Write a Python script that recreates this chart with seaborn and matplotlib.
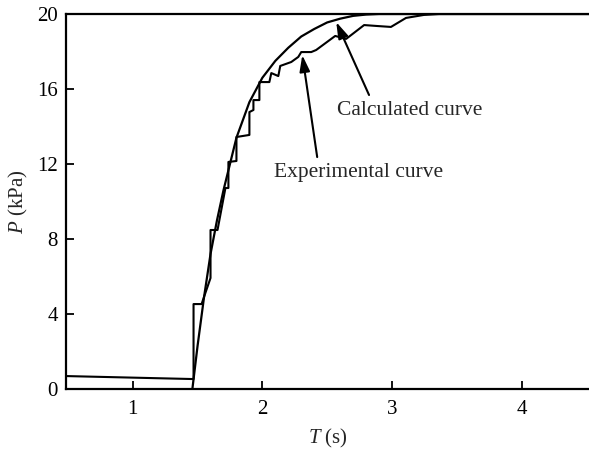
import matplotlib
matplotlib.use("Agg")
import matplotlib.pyplot as plt
import seaborn as sns
import pandas as pd

# Experimental curve (T in s, P in kPa)
exp_t = [0.485, 1.469, 1.469, 1.531, 1.600, 1.600, 1.654, 1.715, 1.738, 1.738,
         1.800, 1.800, 1.900, 1.900, 1.931, 1.931, 1.977, 1.977, 2.054, 2.069,
         2.123, 2.138, 2.223, 2.277, 2.300, 2.377, 2.415, 2.562, 2.646, 2.785,
         2.885, 2.992, 3.108, 3.246, 3.362, 4.52]
exp_p = [0.69, 0.53, 4.53, 4.53, 5.92, 8.48, 8.48, 10.72, 10.72, 12.11,
         12.16, 13.44, 13.55, 14.77, 14.88, 15.41, 15.41, 16.37, 16.37, 16.85,
         16.69, 17.23, 17.44, 17.71, 17.97, 17.97, 18.08, 18.83, 18.67, 19.41,
         19.36, 19.31, 19.79, 19.95, 20.0, 20.0]

# Calculated curve
calc_t = [1.46, 1.50, 1.55, 1.60, 1.65, 1.70, 1.80, 1.90, 2.00, 2.10, 2.20,
          2.30, 2.40, 2.50, 2.60, 2.70, 2.80, 2.90, 3.00, 4.52]
calc_p = [0.0, 2.3, 4.9, 7.2, 9.0, 10.6, 13.4, 15.3, 16.6, 17.5, 18.2,
          18.8, 19.2, 19.55, 19.75, 19.9, 19.97, 20.0, 20.0, 20.0]

x_ticks = [1, 2, 3, 4]
y_ticks = [0, 4, 8, 12, 16, 20]

sns.set_theme(style="white")
plt.rcParams['font.family'] = ['Liberation Serif', 'DejaVu Serif']
plt.rcParams['mathtext.fontset'] = 'custom'
plt.rcParams['mathtext.rm'] = 'Liberation Serif'
plt.rcParams['mathtext.it'] = 'Liberation Serif:italic'

fig = plt.figure(figsize=(5.89, 4.54), dpi=100)
ax = fig.add_axes([66/589, 1-389/454, 1-66/589, (389-14)/454])

df_exp = pd.DataFrame({"T": exp_t, "P": exp_p})
df_calc = pd.DataFrame({"T": calc_t, "P": calc_p})
sns.lineplot(data=df_exp, x="T", y="P", sort=False, estimator=None,
             color="black", lw=1.5, ax=ax)
sns.lineplot(data=df_calc, x="T", y="P", sort=False, estimator=None,
             color="black", lw=1.6, ax=ax)

ax.set_xlim(0.485, 4.52)
ax.set_ylim(0, 20)
ax.set_xticks(x_ticks)
ax.set_yticks(y_ticks)
ax.tick_params(direction="in", length=6, width=1.3, colors="black",
               labelsize=15, bottom=True, left=True)
ax.tick_params(axis="x", pad=8)
ax.tick_params(axis="y", pad=6)
for s in ["left", "bottom", "top"]:
    ax.spines[s].set_color("black")
    ax.spines[s].set_linewidth(1.6)
ax.spines["right"].set_visible(False)

ax.set_xlabel("$T$ (s)", fontsize=15, labelpad=6)
ax.set_ylabel("$P$ (kPa)", fontsize=15, labelpad=5)

arrowprops = dict(arrowstyle="-|>,head_length=0.7,head_width=0.22", color="black",
                  lw=1.5, mutation_scale=14, shrinkA=0, shrinkB=0)
ax.annotate("", xy=(2.57, 19.57), xytext=(2.823, 15.68), arrowprops=arrowprops)
ax.annotate("", xy=(2.308, 17.81), xytext=(2.423, 12.37), arrowprops=arrowprops)
ax.text(2.577, 14.83, "Calculated curve", fontsize=15.5, va="center", ha="left")
ax.text(2.092, 11.57, "Experimental curve", fontsize=15.5, va="center", ha="left")

fig.savefig("out.png", dpi=100)
